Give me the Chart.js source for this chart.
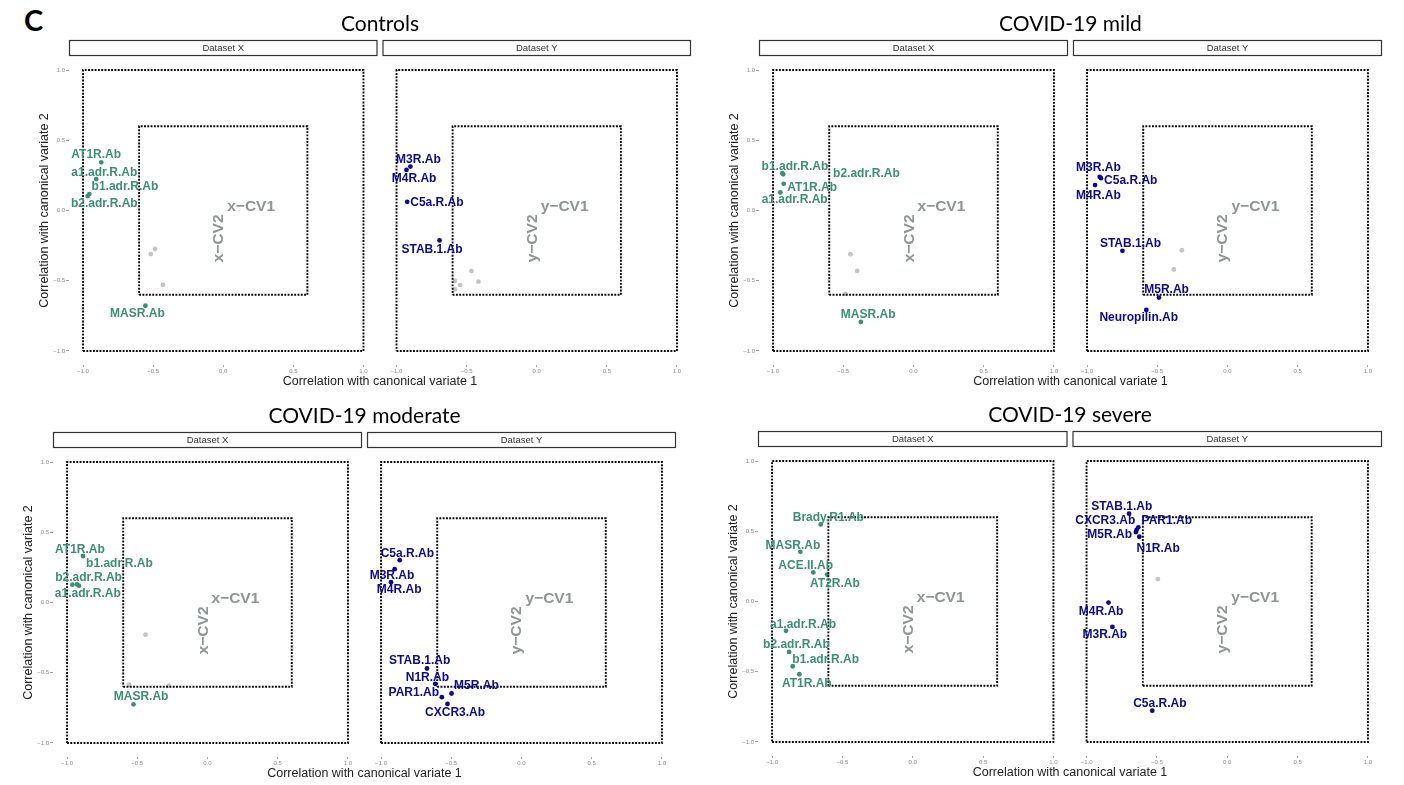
<!DOCTYPE html>
<html>
<head>
<meta charset="utf-8">
<script src="https://cdn.jsdelivr.net/npm/chart.js@4.4.1/dist/chart.umd.min.js"></script>
<style>
  body { margin: 0; background: #fff; width: 1404px; height: 785px; position: relative; overflow: hidden; }
  canvas { position: absolute; }
  #tag { position: absolute; left: 24px; top: 5px; font: bold 29px Lato, 'Liberation Sans', sans-serif; line-height: 1; color: #000; }
</style>
</head>
<body>
<div id="tag">C</div>
<canvas id="pControls"></canvas>
<canvas id="pMild"></canvas>
<canvas id="pModerate"></canvas>
<canvas id="pSevere"></canvas>
<script>
// Axis ticks (shared by every facet)
const tickVals = [-1, -0.5, 0, 0.5, 1];
const tickLabels = ['\u22121.0', '\u22120.5', '0.0', '0.5', '1.0'];
const squareRadii = [1, 0.6]; // dotted reference squares

// Controls - Dataset X
const ctrlX_names = ['AT1R.Ab', 'a1.adr.R.Ab', 'b1.adr.R.Ab', 'b2.adr.R.Ab', 'MASR.Ab'];
const ctrlX_cv1 = [-0.870, -0.906, -0.955, -0.967, -0.555];
const ctrlX_cv2 = [0.343, 0.224, 0.117, 0.103, -0.678];
const ctrlX_labCv1 = [-0.906, -0.848, -0.701, -0.848, -0.612];
const ctrlX_labCv2 = [0.395, 0.272, 0.167, 0.048, -0.737];
const ctrlX_greyCv1 = [-0.516, -0.487, -0.430];
const ctrlX_greyCv2 = [-0.310, -0.274, -0.530];

// Controls - Dataset Y
const ctrlY_names = ['M3R.Ab', 'M4R.Ab', 'C5a.R.Ab', 'STAB.1.Ab'];
const ctrlY_cv1 = [-0.901, -0.929, -0.924, -0.693];
const ctrlY_cv2 = [0.313, 0.289, 0.062, -0.213];
const ctrlY_labCv1 = [-0.844, -0.875, -0.712, -0.747];
const ctrlY_labCv2 = [0.363, 0.225, 0.057, -0.277];
const ctrlY_greyCv1 = [-0.584, -0.584, -0.546, -0.466, -0.416];
const ctrlY_greyCv2 = [-0.502, -0.562, -0.531, -0.431, -0.507];

// COVID-19 mild - Dataset X
const mildX_names = ['b1.adr.R.Ab', 'b2.adr.R.Ab', 'AT1R.Ab', 'a1.adr.R.Ab', 'MASR.Ab'];
const mildX_cv1 = [-0.934, -0.928, -0.924, -0.948, -0.375];
const mildX_cv2 = [0.266, 0.258, 0.190, 0.128, -0.793];
const mildX_labCv1 = [-0.844, -0.335, -0.721, -0.846, -0.323];
const mildX_labCv2 = [0.311, 0.264, 0.164, 0.074, -0.741];
const mildX_greyCv1 = [-0.449, -0.401, -0.484];
const mildX_greyCv2 = [-0.311, -0.430, -0.594];

// COVID-19 mild - Dataset Y
const mildY_names = ['M3R.Ab', 'C5a.R.Ab', 'M4R.Ab', 'STAB.1.Ab', 'M5R.Ab', 'Neuropilin.Ab'];
const mildY_cv1 = [-0.910, -0.901, -0.943, -0.748, -0.488, -0.578];
const mildY_cv2 = [0.240, 0.230, 0.181, -0.287, -0.620, -0.708];
const mildY_labCv1 = [-0.919, -0.689, -0.919, -0.691, -0.434, -0.632];
const mildY_labCv2 = [0.306, 0.209, 0.109, -0.238, -0.565, -0.765];
const mildY_greyCv1 = [-0.325, -0.382];
const mildY_greyCv2 = [-0.283, -0.420];

// COVID-19 moderate - Dataset X
const modX_names = ['AT1R.Ab', 'b1.adr.R.Ab', 'b2.adr.R.Ab', 'a1.adr.R.Ab', 'MASR.Ab'];
const modX_cv1 = [-0.886, -0.915, -0.962, -0.929, -0.527];
const modX_cv2 = [0.331, 0.120, 0.127, 0.129, -0.725];
const modX_labCv1 = [-0.908, -0.627, -0.847, -0.852, -0.473];
const modX_labCv2 = [0.378, 0.279, 0.179, 0.065, -0.673];
const modX_greyCv1 = [-0.441, -0.558, -0.276];
const modX_greyCv2 = [-0.229, -0.585, -0.592];

// COVID-19 moderate - Dataset Y
const modY_names = ['C5a.R.Ab', 'M3R.Ab', 'M4R.Ab', 'STAB.1.Ab', 'N1R.Ab', 'PAR1.Ab', 'M5R.Ab', 'CXCR3.Ab'];
const modY_cv1 = [-0.867, -0.903, -0.929, -0.673, -0.614, -0.567, -0.498, -0.527];
const modY_cv2 = [0.301, 0.237, 0.144, -0.470, -0.580, -0.674, -0.648, -0.722];
const modY_labCv1 = [-0.813, -0.922, -0.871, -0.725, -0.670, -0.767, -0.321, -0.473];
const modY_labCv2 = [0.351, 0.191, 0.089, -0.415, -0.532, -0.639, -0.593, -0.781];
const modY_greyCv1 = [];
const modY_greyCv2 = [];

// COVID-19 severe - Dataset X
const sevX_names = ['Brady.R1.Ab', 'MASR.Ab', 'ACE.II.Ab', 'AT2R.Ab', 'a1.adr.R.Ab', 'b2.adr.R.Ab', 'b1.adr.R.Ab', 'AT1R.Ab'];
const sevX_cv1 = [-0.654, -0.799, -0.707, -0.609, -0.901, -0.879, -0.853, -0.806];
const sevX_cv2 = [0.549, 0.354, 0.207, 0.192, -0.209, -0.359, -0.461, -0.518];
const sevX_labCv1 = [-0.600, -0.852, -0.761, -0.553, -0.780, -0.827, -0.619, -0.753];
const sevX_labCv2 = [0.599, 0.399, 0.257, 0.128, -0.162, -0.311, -0.411, -0.584];
const sevX_greyCv1 = [];
const sevX_greyCv2 = [];

// COVID-19 severe - Dataset Y
const sevY_names = ['STAB.1.Ab', 'CXCR3.Ab', 'PAR1.Ab', 'M5R.Ab', 'N1R.Ab', 'M4R.Ab', 'M3R.Ab', 'C5a.R.Ab'];
const sevY_cv1 = [-0.698, -0.644, -0.632, -0.649, -0.625, -0.844, -0.816, -0.533];
const sevY_cv2 = [0.625, 0.510, 0.528, 0.495, 0.461, -0.008, -0.181, -0.777];
const sevY_labCv1 = [-0.750, -0.867, -0.430, -0.836, -0.491, -0.897, -0.870, -0.479];
const sevY_labCv2 = [0.673, 0.578, 0.578, 0.473, 0.378, -0.070, -0.238, -0.725];
const sevY_greyCv1 = [-0.493];
const sevY_greyCv2 = [0.160];

const GREEN = '#3b9072';
const BLUE = '#0b0b8c';
const GREY_PT = '#c4c4c4';
const CV_GREY = '#8e9595';
const TICK_GREY = '#8c8c8c';
const SANS = '"Liberation Sans", Arial, sans-serif';

function pts(xs, ys) {
  return xs.map((x, i) => ({ x: x, y: ys[i] }));
}

function square(r) {
  return [[-r, -r], [r, -r], [r, r], [-r, r], [-r, -r]].map(p => ({ x: p[0], y: p[1] }));
}

// strips, titles, CV labels and point labels
const facetDecor = {
  id: 'facetDecor',
  beforeDatasetsDraw(chart, args, o) {
    const ctx = chart.ctx, a = chart.chartArea, ys = chart.scales.y;
    ctx.save();
    ctx.fillStyle = '#000';
    ctx.font = '21px Lato, ' + SANS;
    ctx.textAlign = 'center';
    ctx.textBaseline = 'middle';
    ctx.fillText(o.title, (a.left + a.right) / 2, a.top - 32);
    o.facets.forEach(f => {
      const s = chart.scales[f.axis];
      ctx.fillStyle = '#fff';
      ctx.strokeStyle = '#333';
      ctx.lineWidth = 1.2;
      ctx.fillRect(s.left + 0.5, a.top - 15.5, s.width - 1, 15);
      ctx.strokeRect(s.left + 0.5, a.top - 15.5, s.width - 1, 15);
      ctx.fillStyle = '#333';
      ctx.font = '9.5px ' + SANS;
      ctx.textAlign = 'center';
      ctx.textBaseline = 'middle';
      ctx.fillText(f.strip, (s.left + s.right) / 2, a.top - 7.5);

      const x0 = s.getPixelForValue(0), y0 = ys.getPixelForValue(0);
      ctx.fillStyle = CV_GREY;
      ctx.font = 'bold 15.5px ' + SANS;
      ctx.textAlign = 'left';
      ctx.textBaseline = 'alphabetic';
      ctx.fillText(f.cv + '\u2212CV1', x0 + 4, y0);
      ctx.save();
      ctx.translate(x0, y0 + 4);
      ctx.rotate(-Math.PI / 2);
      ctx.textAlign = 'right';
      ctx.fillText(f.cv + '\u2212CV2', 0, 0);
      ctx.restore();
    });
    ctx.restore();
  },
  afterDatasetsDraw(chart, args, o) {
    const ctx = chart.ctx, ys = chart.scales.y;
    ctx.save();
    ctx.font = 'bold 12px ' + SANS;
    ctx.textAlign = 'center';
    ctx.textBaseline = 'middle';
    o.facets.forEach(f => {
      const s = chart.scales[f.axis];
      ctx.fillStyle = f.color;
      f.names.forEach((n, i) => {
        ctx.fillText(n, s.getPixelForValue(f.labX[i]), ys.getPixelForValue(f.labY[i]));
      });
    });
    ctx.restore();
  }
};

function facetDatasets(axis, f) {
  const ds = squareRadii.map(r => ({
    data: square(r), xAxisID: axis, yAxisID: 'y', showLine: true, pointRadius: 0,
    borderColor: '#000', borderWidth: 1.9, borderDash: [1.9, 1.4], fill: false, tension: 0
  }));
  ds.push({ data: pts(f.greyX, f.greyY), xAxisID: axis, yAxisID: 'y', pointRadius: 2.4,
    backgroundColor: GREY_PT, borderWidth: 0 });
  ds.push({ data: pts(f.cv1, f.cv2), xAxisID: axis, yAxisID: 'y', pointRadius: 2.4,
    backgroundColor: f.color, borderWidth: 0 });
  return ds;
}

function facetScale(weight) {
  return {
    type: 'linear', axis: 'x', position: 'bottom', stack: 'facets', stackWeight: weight,
    min: -1.1, max: 1.1,
    afterBuildTicks: s => { s.ticks = tickVals.map(v => ({ value: v })); },
    afterFit: s => { s.height = 10; },
    ticks: {
      callback: (v, i) => tickLabels[i], font: { size: 6, family: SANS }, color: TICK_GREY,
      padding: 1, maxRotation: 0, autoSkip: false
    },
    grid: { display: true, drawOnChartArea: false, drawTicks: true, tickLength: 2, color: TICK_GREY, lineWidth: 0.8 },
    border: { display: false }
  };
}

function makePanel(id, title, box, fx, fy) {
  const cv = document.getElementById(id);
  cv.width = 44 + box.w + 3;
  cv.height = 392;
  cv.style.left = (box.left - 44) + 'px';
  cv.style.top = (box.top - 56) + 'px';
  const half = (box.w - 5) / 2;
  fx.axis = 'xa'; fx.strip = 'Dataset X'; fx.cv = 'x'; fx.color = GREEN;
  fy.axis = 'xb'; fy.strip = 'Dataset Y'; fy.cv = 'y'; fy.color = BLUE;

  const gap = facetScale(5);
  gap.ticks = { display: false };
  gap.grid = { display: false };

  new Chart(cv, {
    type: 'scatter',
    data: { datasets: facetDatasets('xa', fx).concat(facetDatasets('xb', fy)) },
    options: {
      responsive: false,
      animation: false,
      events: [],
      layout: { padding: { left: 0, right: 3, top: 56, bottom: 3 } },
      scales: {
        xa: facetScale(half),
        xg: gap,
        xb: facetScale(half),
        xt: {
          type: 'linear', axis: 'x', position: 'bottom', weight: 1,
          afterFit: s => { s.height = 14; },
          ticks: { display: false }, grid: { display: false }, border: { display: false },
          title: { display: true, text: 'Correlation with canonical variate 1',
            font: { size: 12.5, family: SANS }, color: '#222', padding: 0 }
        },
        y: {
          type: 'linear', position: 'left', min: -1.1, max: 1.1,
          afterBuildTicks: s => { s.ticks = tickVals.map(v => ({ value: v })); },
          afterFit: s => { s.width = 44; },
          ticks: { callback: (v, i) => tickLabels[i], font: { size: 6, family: SANS }, color: TICK_GREY, padding: 1 },
          grid: { display: true, drawOnChartArea: false, drawTicks: true, tickLength: 3, color: TICK_GREY, lineWidth: 0.8 },
          border: { display: false },
          title: { display: true, text: 'Correlation with canonical variate 2',
            font: { size: 12.5, family: SANS }, color: '#222', padding: { top: 12, bottom: 0 } }
        }
      },
      plugins: {
        legend: { display: false },
        tooltip: { enabled: false },
        facetDecor: { title: title, facets: [fx, fy] }
      }
    },
    plugins: [facetDecor]
  });
}

makePanel('pControls', 'Controls', { left: 69, top: 56, w: 623 },
  { names: ctrlX_names, cv1: ctrlX_cv1, cv2: ctrlX_cv2, labX: ctrlX_labCv1, labY: ctrlX_labCv2, greyX: ctrlX_greyCv1, greyY: ctrlX_greyCv2 },
  { names: ctrlY_names, cv1: ctrlY_cv1, cv2: ctrlY_cv2, labX: ctrlY_labCv1, labY: ctrlY_labCv2, greyX: ctrlY_greyCv1, greyY: ctrlY_greyCv2 });

makePanel('pMild', 'COVID-19 mild', { left: 759, top: 56, w: 624 },
  { names: mildX_names, cv1: mildX_cv1, cv2: mildX_cv2, labX: mildX_labCv1, labY: mildX_labCv2, greyX: mildX_greyCv1, greyY: mildX_greyCv2 },
  { names: mildY_names, cv1: mildY_cv1, cv2: mildY_cv2, labX: mildY_labCv1, labY: mildY_labCv2, greyX: mildY_greyCv1, greyY: mildY_greyCv2 });

makePanel('pModerate', 'COVID-19 moderate', { left: 53, top: 448, w: 624 },
  { names: modX_names, cv1: modX_cv1, cv2: modX_cv2, labX: modX_labCv1, labY: modX_labCv2, greyX: modX_greyCv1, greyY: modX_greyCv2 },
  { names: modY_names, cv1: modY_cv1, cv2: modY_cv2, labX: modY_labCv1, labY: modY_labCv2, greyX: modY_greyCv1, greyY: modY_greyCv2 });

makePanel('pSevere', 'COVID-19 severe', { left: 758, top: 447, w: 625 },
  { names: sevX_names, cv1: sevX_cv1, cv2: sevX_cv2, labX: sevX_labCv1, labY: sevX_labCv2, greyX: sevX_greyCv1, greyY: sevX_greyCv2 },
  { names: sevY_names, cv1: sevY_cv1, cv2: sevY_cv2, labX: sevY_labCv1, labY: sevY_labCv2, greyX: sevY_greyCv1, greyY: sevY_greyCv2 });
</script>
</body>
</html>
